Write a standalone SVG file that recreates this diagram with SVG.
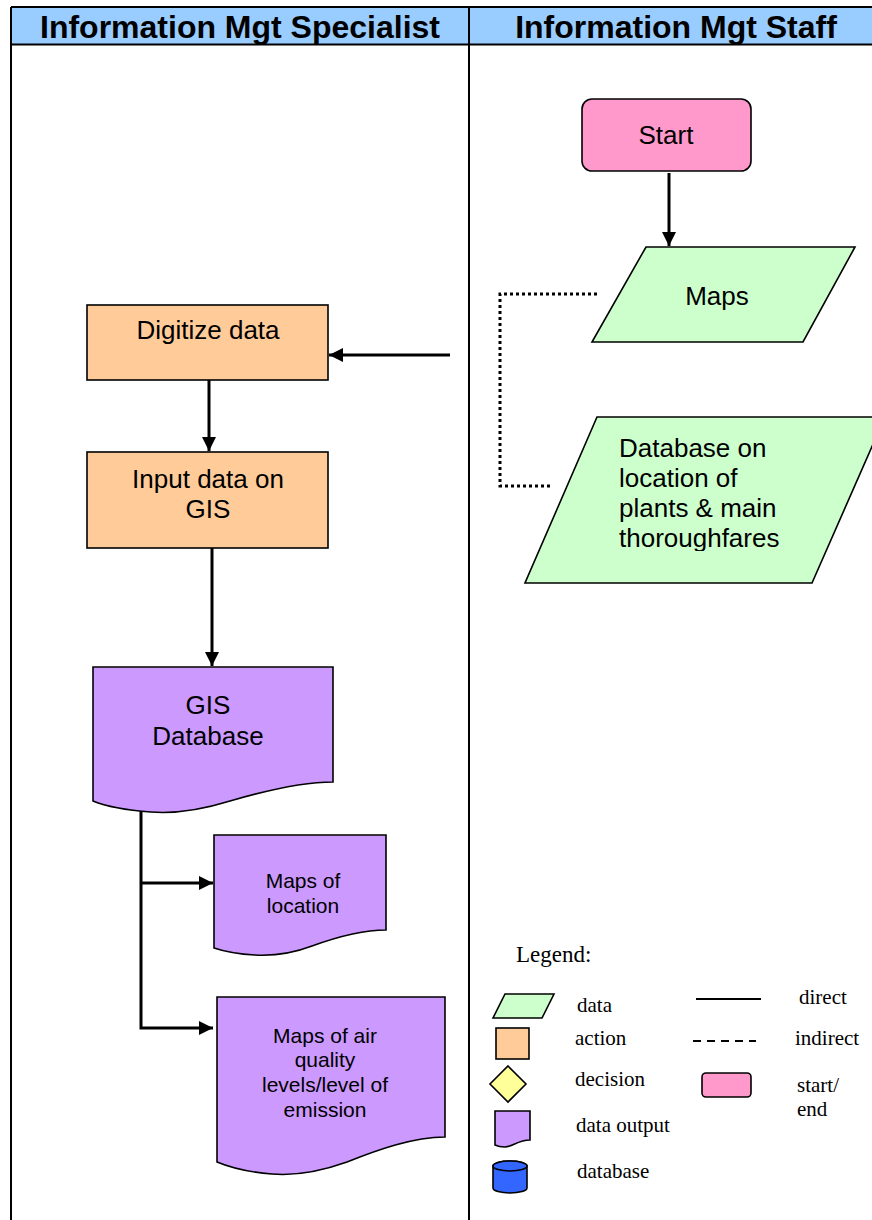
<svg xmlns="http://www.w3.org/2000/svg" width="872" height="1220" viewBox="0 0 872 1220">
<style>
.hdr{font-family:"Liberation Sans",Arial,sans-serif;font-weight:bold;font-size:32px;fill:#000;text-anchor:middle}
.t{font-family:"Liberation Sans",Arial,sans-serif;font-size:26px;fill:#000;text-anchor:middle}
.ts{font-family:"Liberation Sans",Arial,sans-serif;font-size:21px;fill:#000;text-anchor:middle}
.lg{font-family:"Liberation Serif","Times New Roman",serif;font-size:21px;fill:#000}
.shape{stroke:#000;stroke-width:1.6}
.conn{fill:none;stroke:#000;stroke-width:3}
.grid{stroke:#000;stroke-width:2;fill:none}
</style>
<defs>
<marker id="arr" markerUnits="userSpaceOnUse" markerWidth="14" markerHeight="14" refX="14" refY="7" orient="auto">
<path d="M0,0 L14,7 L0,14 Z" fill="#000"/>
</marker>
<clipPath id="dbclip"><rect x="500" y="400" width="400" height="151"/></clipPath>
</defs>

<g id="lanes">
<rect x="11" y="7" width="870" height="37" fill="#99ccff"/>
<line class="grid" x1="11" y1="7" x2="872" y2="7"/>
<line class="grid" x1="11" y1="44.5" x2="872" y2="44.5"/>
<line class="grid" x1="11" y1="7" x2="11" y2="1220"/>
<line class="grid" x1="469" y1="7" x2="469" y2="1220"/>
<text class="hdr" x="240" y="38">Information Mgt Specialist</text>
<text class="hdr" x="676" y="38">Information Mgt Staff</text>
</g>

<g id="connectors">
<line class="conn" x1="669" y1="173" x2="669" y2="246" marker-end="url(#arr)"/>
<line class="conn" x1="450" y1="355" x2="329" y2="355" marker-end="url(#arr)"/>
<line class="conn" x1="209" y1="380" x2="209" y2="451" marker-end="url(#arr)"/>
<line class="conn" x1="212" y1="548" x2="212" y2="666" marker-end="url(#arr)"/>
<path class="conn" d="M141,808 V1028 H213" marker-end="url(#arr)"/>
<line class="conn" x1="141" y1="883" x2="213" y2="883" marker-end="url(#arr)"/>
<path class="conn" d="M597,294 H500 V486 H550" stroke-dasharray="3 3"/>
</g>

<g id="start">
<rect class="shape" x="582" y="99" width="169" height="72" rx="10" fill="#ff99cc"/>
<text class="t" x="666" y="144">Start</text>
</g>

<g id="maps">
<polygon class="shape" points="646,247 855,247 803,342 592,342" fill="#ccffcc"/>
<text class="t" x="717" y="305">Maps</text>
</g>

<g id="database-on-location">
<polygon class="shape" points="597,417 885,417 812,583 525,583" fill="#ccffcc"/>
<g clip-path="url(#dbclip)">
<text class="t" style="text-anchor:start" x="619" y="457">Database on</text>
<text class="t" style="text-anchor:start" x="619" y="487">location of</text>
<text class="t" style="text-anchor:start" x="619" y="517">plants &amp; main</text>
<text class="t" style="text-anchor:start" x="619" y="547">thoroughfares</text>
</g>
</g>

<g id="digitize">
<rect class="shape" x="87" y="305" width="241" height="75" fill="#ffcc99"/>
<text class="t" x="208" y="339">Digitize data</text>
</g>

<g id="input-gis">
<rect class="shape" x="87" y="452" width="241" height="96" fill="#ffcc99"/>
<text class="t" x="208" y="488">Input data on</text>
<text class="t" x="208" y="518">GIS</text>
</g>

<g id="gis-database">
<path class="shape" fill="#cc99ff" d="M93,667 H333 V782 C300,782 261,792 230,801 C201,810 177,814 151,812 C124,810 105,806 93,801 Z"/>
<text class="t" x="208" y="714">GIS</text>
<text class="t" x="208" y="745">Database</text>
</g>

<g id="maps-location">
<path class="shape" fill="#cc99ff" d="M214,835 H386 V930 C362,930 334,938 312,946 C291,954 274,956 255,955 C236,954 223,951 214,948 Z"/>
<text class="ts" x="303" y="888">Maps of</text>
<text class="ts" x="303" y="913">location</text>
</g>

<g id="maps-air-quality">
<path class="shape" fill="#cc99ff" d="M217,997 H445 V1137 C413,1137 377,1150 347,1162 C319,1172 296,1176 272,1174 C247,1172 229,1167 217,1162 Z"/>
<text class="ts" x="325" y="1043">Maps of air</text>
<text class="ts" x="325" y="1067">quality</text>
<text class="ts" x="325" y="1092">levels/level of</text>
<text class="ts" x="325" y="1117">emission</text>
</g>

<g id="legend">
<text class="lg" style="font-size:23px" x="516" y="962">Legend:</text>
<polygon class="shape" points="505,994 554,994 542,1018 493,1018" fill="#ccffcc"/>
<text class="lg" x="577" y="1012">data</text>
<rect class="shape" x="496" y="1028" width="33" height="31" fill="#ffcc99"/>
<text class="lg" x="575" y="1045">action</text>
<polygon class="shape" points="508,1066 526,1084 508,1102 490,1084" fill="#ffff99"/>
<text class="lg" x="575" y="1086">decision</text>
<path class="shape" fill="#cc99ff" d="M495,1111 H530 V1140 C518,1140 512,1147 505,1147 C500,1147 497,1146 495,1145 Z"/>
<text class="lg" x="576" y="1132">data output</text>
<path class="shape" fill="#3366ff" d="M493,1166 V1188 A17,5 0 0 0 527,1188 V1166 A17,5 0 0 0 493,1166 Z"/>
<ellipse class="shape" cx="510" cy="1166" rx="17" ry="5" fill="#3366ff"/>
<text class="lg" x="577" y="1178">database</text>
<line x1="696" y1="999" x2="761" y2="999" stroke="#000" stroke-width="2"/>
<text class="lg" x="799" y="1004">direct</text>
<line x1="693" y1="1041" x2="756" y2="1041" stroke="#000" stroke-width="2" stroke-dasharray="8 6"/>
<text class="lg" x="795" y="1045">indirect</text>
<rect class="shape" x="702" y="1073" width="49" height="24" rx="4" fill="#ff99cc"/>
<text class="lg" x="797" y="1092">start/</text>
<text class="lg" x="797" y="1116">end</text>
</g>
</svg>
